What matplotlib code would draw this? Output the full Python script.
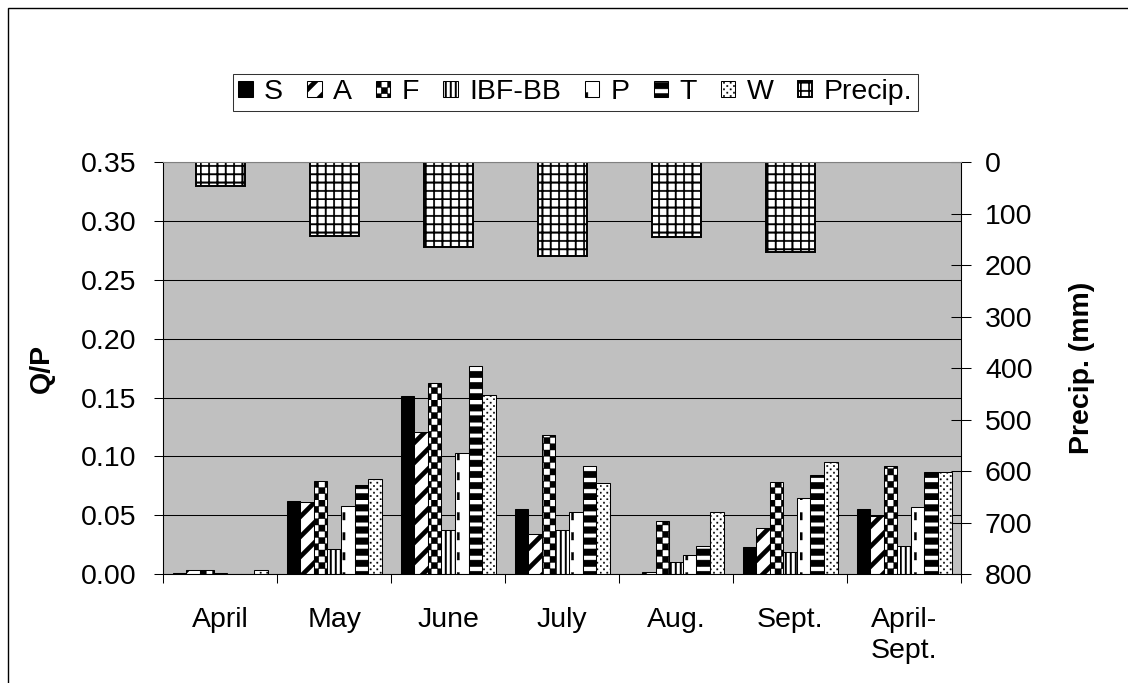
import warnings
warnings.filterwarnings('ignore')
import numpy as np
import matplotlib
matplotlib.use('Agg')
import matplotlib.pyplot as plt
import matplotlib.hatch as mhatch
from matplotlib.path import Path
from matplotlib.patches import Rectangle

# data
months = ['April', 'May', 'June', 'July', 'Aug.', 'Sept.', 'April-\nSept.']
S = [0.001, 0.062, 0.151, 0.055, 0.0, 0.023, 0.055]
A = [0.003, 0.061, 0.121, 0.034, 0.002, 0.039, 0.049]
F = [0.003, 0.079, 0.162, 0.118, 0.045, 0.078, 0.092]
IBF = [0.001, 0.021, 0.037, 0.037, 0.010, 0.019, 0.024]
P = [0.0, 0.058, 0.103, 0.053, 0.016, 0.065, 0.057]
T = [0.0, 0.076, 0.177, 0.092, 0.024, 0.084, 0.087]
W = [0.003, 0.081, 0.152, 0.077, 0.053, 0.095, 0.087]
precip = [46, 143, 164, 182, 146, 175]   # April..Sept. (mm)

series = [('S', S), ('A', A), ('F', F), ('IBF-BB', IBF), ('P', P), ('T', T), ('W', W)]
hatches = [None, 'a', 'c', 'v', 'd', 'h', 'p']


# excel-like fill patterns as custom hatches (filled shapes in a unit tile)
def rect(x0, y0, x1, y1):
    return [(x0, y0), (x1, y0), (x1, y1), (x0, y1), (x0, y0)]


def tiles(key):
    out = []
    if key == 'c':      # checkerboard
        n = 16
        for i in range(n):
            for j in range(n):
                if (i + j) % 2 == 0:
                    out.append(rect(i / n, j / n, (i + 1) / n, (j + 1) / n))
    elif key == 'a':    # wide diagonal
        n, w = 5, 0.06
        for k in range(-n - 1, n + 2):
            c = k / n
            out.append([(-0.2, -0.2 + c), (1.2, 1.2 + c), (1.2, 1.2 + c + w),
                        (-0.2, -0.2 + c + w), (-0.2, -0.2 + c)])
    elif key == 'v':    # vertical lines
        n, w = 20, 0.016
        for i in range(n):
            out.append(rect(i / n, 0, i / n + w, 1))
    elif key == 'd':    # dashed vertical
        nx, ny = 7, 5
        for i in range(nx):
            for j in range(ny):
                out.append(rect(i / nx, j / ny, i / nx + 0.022, j / ny + 0.075))
    elif key == 'h':    # wide horizontal
        n, w = 9, 0.066
        for j in range(n):
            out.append(rect(0, j / n, 1, j / n + w))
    elif key == 'p':    # dotted
        n, w = 30, 0.013
        for i in range(n):
            for j in range(n):
                if (i + j) % 2 == 0:
                    out.append(rect(i / n, j / n, i / n + w, j / n + w))
    elif key == 'g':    # grid
        n, w = 12, 0.015
        for i in range(n):
            out.append(rect(i / n, 0, i / n + w, 1))
            out.append(rect(0, i / n, 1, i / n + w))
    return out


class CustomHatch(mhatch.HatchPatternBase):
    def __init__(self, hatch, density):
        self.polys = []
        for key in 'cavdhpg':
            if key in hatch:
                self.polys += tiles(key)
        self.num_vertices = 5 * len(self.polys)

    def set_vertices_and_codes(self, vertices, codes):
        for k, poly in enumerate(self.polys):
            vertices[5 * k:5 * k + 5] = poly
            codes[5 * k:5 * k + 5] = [Path.MOVETO, Path.LINETO, Path.LINETO,
                                      Path.LINETO, Path.CLOSEPOLY]


mhatch._hatch_types.append(CustomHatch)

plt.rcParams['font.family'] = ['Liberation Sans', 'DejaVu Sans']
plt.rcParams['font.size'] = 20.5
plt.rcParams['hatch.linewidth'] = 0.3
plt.rcParams['hatch.color'] = 'black'

fig = plt.figure(figsize=(11.28, 6.83), dpi=100)
ax = fig.add_axes([0.1448, 0.1596, 0.7072, 0.6028])
ax2 = ax.twinx()

x = np.arange(len(months))
bw = 0.119
handles = []
for i, (name, vals) in enumerate(series):
    if hatches[i] is None:
        b = ax.bar(x + (i - 3) * bw, vals, bw, color='black', edgecolor='black',
                   linewidth=0.75, label=name, zorder=2)
    else:
        b = ax.bar(x + (i - 3) * bw, vals, bw, color='white', edgecolor='black',
                   linewidth=0.75, hatch=hatches[i], label=name, zorder=2)
    handles.append(b)

pb = ax2.bar(x[:len(precip)], precip, 0.43, color='white', edgecolor='black',
             linewidth=1.4, hatch='g', label='Precip.')
handles.append(pb)

ax.set_facecolor('#C0C0C0')
ax.set_xlim(-0.5, 6.5)
ax.set_ylim(0, 0.35)
ax.set_yticks(np.arange(0, 0.351, 0.05))
ax.set_yticklabels(['%.2f' % v for v in np.arange(0, 0.351, 0.05)])
ax.set_axisbelow(True)
ax.yaxis.grid(True, color='black', linewidth=0.75)
ax.set_xticks(x)
ax.set_xticklabels(months, linespacing=1.25)
ax.set_xticks(np.arange(-0.5, 7, 1), minor=True)
ax.tick_params(axis='x', which='major', length=0, pad=24)
ax.tick_params(axis='x', which='minor', length=6.5, width=0.75, direction='out')
ax.tick_params(axis='y', length=6.5, width=0.75, direction='out', pad=12.7)

ax2.set_ylim(800, 0)
ax2.set_yticks(np.arange(0, 801, 100))
ax2.tick_params(axis='y', length=14.4, width=0.75, direction='inout', pad=10)

for a in (ax, ax2):
    for s in a.spines.values():
        s.set_linewidth(0.75)
        s.set_color('black')
    a.spines['top'].set_color('#808080')

ax.set_ylabel('Q/P', fontweight='bold')
ax.yaxis.set_label_coords(-0.1358, 0.5)
ax2.set_ylabel('Precip. (mm)', fontweight='bold')
ax2.yaxis.set_label_coords(1.1354, 0.5)

labels = [h.get_label() for h in handles]
leg = fig.legend(handles, labels, loc='center', bbox_to_anchor=(0.51, 0.8646),
                 ncol=8, frameon=True, fancybox=False, shadow=False,
                 handlelength=0.5, handleheight=0.5, handletextpad=0.4,
                 columnspacing=0.85, borderpad=0.2, borderaxespad=0)
leg.get_frame().set_edgecolor('black')
leg.get_frame().set_linewidth(0.75)

# chart area border
fig.add_artist(Rectangle((8 / 1128, -0.1), 1.2, 1 - 8 / 683 + 0.1,
                         transform=fig.transFigure, fill=False,
                         edgecolor='black', linewidth=1.0))

fig.savefig('out.png', dpi=100)
